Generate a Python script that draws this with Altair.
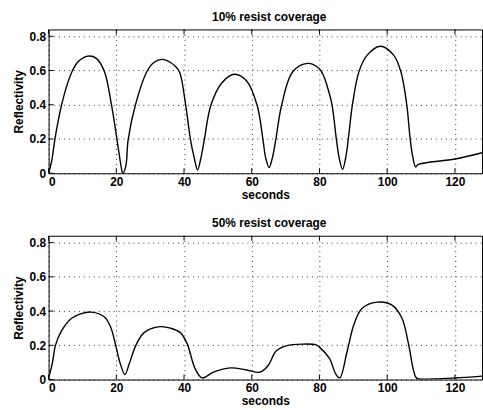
import altair as alt
import pandas as pd

# ---- data ----
top_t = [0, 0.9, 1.85, 2.8, 3.8, 5.3, 6.9, 8.7, 11.6, 14.1,
         16.5, 18.6, 20.2, 21.4, 21.9, 22.8, 23.5, 25.6, 29.0, 31.1,
         33.6, 36.0, 37.4, 38.7, 40.5, 41.9, 43.0, 44.0, 45.0, 46.0, 47.9,
         51.1, 54.8, 58.5, 61.6, 63.3, 64.1, 65.1, 66.1, 67.1, 68.8,
         72.1, 76.5, 79.9, 81.3, 82.4, 83.7, 85.0, 85.8, 86.8, 87.75, 88.5,
         89.7, 91.65, 94.1, 98.0, 101.9, 104.05, 105.8, 106.8, 107.6, 108.4,
         109.2, 120.0, 128]
top_v = [0, 0.071, 0.197, 0.303, 0.396, 0.506, 0.593, 0.651, 0.684, 0.671,
         0.593, 0.396, 0.197, 0.042, 0.0, 0.042, 0.197, 0.396, 0.593, 0.647,
         0.665, 0.647, 0.625, 0.59, 0.396, 0.197, 0.091, 0.019, 0.091, 0.197, 0.396,
         0.526, 0.578, 0.539, 0.396, 0.197, 0.091, 0.033, 0.091, 0.197, 0.396,
         0.593, 0.642, 0.612, 0.565, 0.5, 0.4, 0.197, 0.091, 0.023, 0.091, 0.197,
         0.396, 0.593, 0.69, 0.742, 0.69, 0.593, 0.396, 0.197, 0.091, 0.037,
         0.052, 0.083, 0.12]

bot_t = [0, 1.07, 2.05, 3.8, 6.7, 9.66, 12.6, 16.5, 18.4, 19.8,
         21.2, 22.55, 23.8, 25.8, 28.2, 32.9, 36.0, 38.9, 40.9, 43.3,
         45.3, 48.7, 53.6, 58.5, 62.4, 64.8, 67.25, 70.2, 75.1, 79.0,
         79.9, 82.9, 84.8, 86.0, 88.2, 90.2, 92.6, 97.0, 101.4, 104.3,
         106.3, 107.8, 108.7, 113.6, 120.0, 128]
bot_v = [0.01, 0.091, 0.201, 0.284, 0.357, 0.385, 0.394, 0.365, 0.303, 0.201,
         0.091, 0.029, 0.091, 0.201, 0.274, 0.309, 0.3, 0.274, 0.21, 0.062,
         0.01, 0.043, 0.068, 0.056, 0.043, 0.081, 0.168, 0.197, 0.207, 0.203,
         0.191, 0.125, 0.033, 0.01, 0.168, 0.323, 0.416, 0.452, 0.435, 0.361,
         0.207, 0.052, 0.008, 0.004, 0.009, 0.02]

x_ticks = [0, 20, 40, 60, 80, 100, 120]
y_ticks = [0, 0.2, 0.4, 0.6, 0.8]
titles = ["10% resist coverage", "50% resist coverage"]

W, H = 437, 145
xs = alt.Scale(domain=[0, 128], nice=False, zero=False)
ys = alt.Scale(domain=[0, 0.84], nice=False)
FONT = "Liberation Sans"
x_axis = alt.Axis(values=x_ticks, format="d", title="seconds")
y_axis = alt.Axis(values=y_ticks, format=".1~f", title="Reflectivity")


def panel(t, v, title):
    df = pd.DataFrame({"t": t, "v": v})
    xt = pd.DataFrame({"t": x_ticks})
    yt = pd.DataFrame({"v": y_ticks})
    line = alt.Chart(df).mark_line(
        color="black", strokeWidth=1.4, interpolate="catmull-rom", clip=True
    ).encode(
        x=alt.X("t:Q", scale=xs, axis=x_axis),
        y=alt.Y("v:Q", scale=ys, axis=y_axis),
    )
    tick_b = alt.Chart(xt).mark_rule(color="black", strokeWidth=1).encode(
        x=alt.X("t:Q", scale=xs, axis=x_axis), y=alt.value(H), y2=alt.value(H - 5))
    tick_t = alt.Chart(xt).mark_rule(color="black", strokeWidth=1).encode(
        x=alt.X("t:Q", scale=xs, axis=x_axis), y=alt.value(0), y2=alt.value(5))
    tick_l = alt.Chart(yt).mark_rule(color="black", strokeWidth=1).encode(
        y=alt.Y("v:Q", scale=ys, axis=y_axis), x=alt.value(0), x2=alt.value(5))
    return alt.layer(line, tick_b, tick_t, tick_l).properties(
        width=W, height=H, title=alt.TitleParams(title, dx=4))


chart = alt.vconcat(
    panel(top_t, top_v, titles[0]),
    panel(bot_t, bot_v, titles[1]),
    spacing=16,
).properties(
    padding={"left": 11, "top": 9, "right": 0, "bottom": 0},
    background="white",
).configure_view(
    stroke="black", strokeWidth=1
).configure_axis(
    labelFont=FONT, labelFontSize=12, labelFontWeight="bold", labelColor="black",
    titleFont=FONT, titleFontSize=12, titleFontWeight="bold", titleColor="black",
    domain=False, ticks=False, grid=True, gridColor="black", gridDash=[1, 4],
    gridOpacity=0.8, gridWidth=1,
).configure_axisX(
    labelPadding=3, titlePadding=2,
).configure_axisY(
    labelPadding=3, titlePadding=4,
).configure_title(
    font=FONT, fontSize=12, fontWeight="bold", color="black", offset=5,
)

chart.save("out.html", embed_options={"renderer": "svg", "actions": False})
